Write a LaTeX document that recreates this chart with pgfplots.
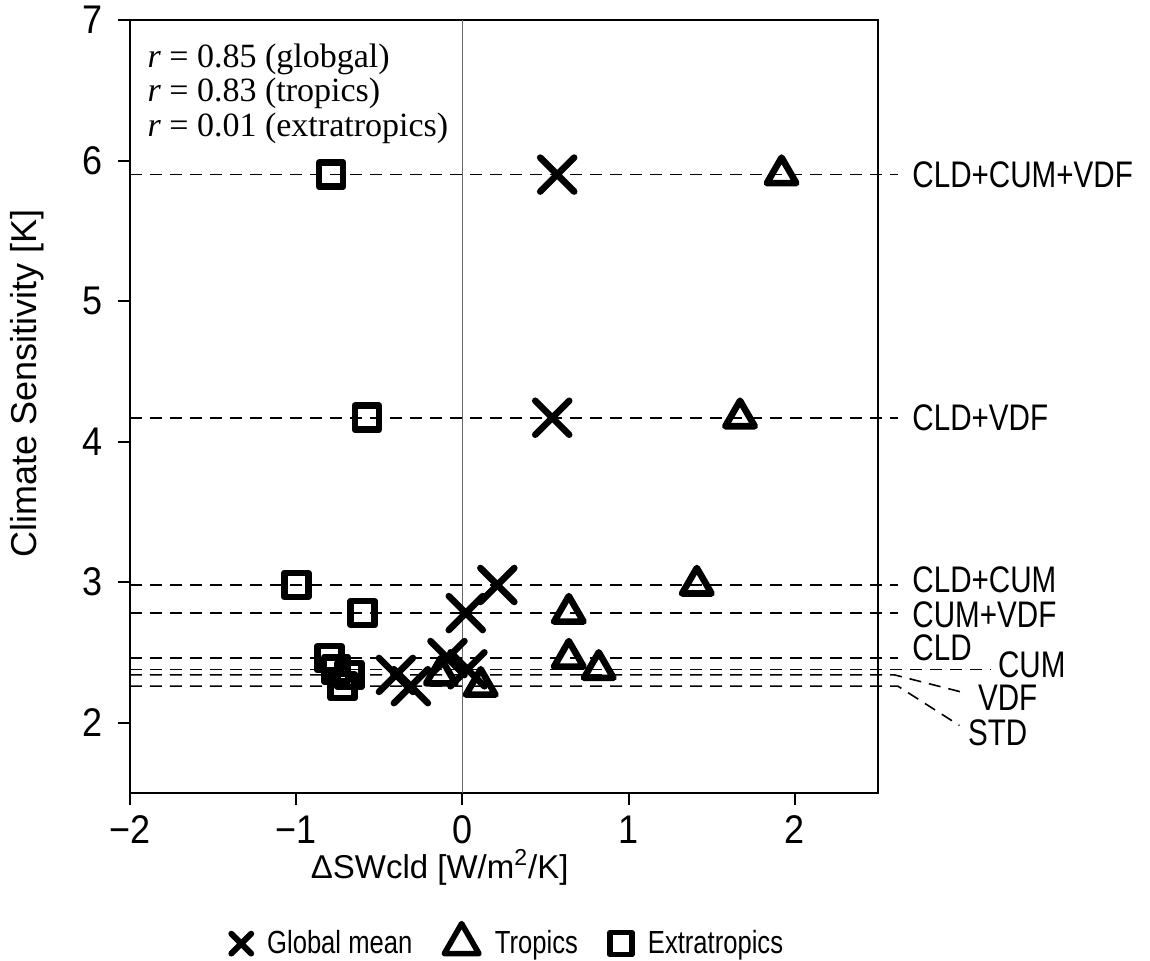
\documentclass[border=0pt]{standalone}
\usepackage{fontspec}
\setmainfont{Liberation Sans}
\newfontfamily\condfont[FakeStretch=0.8]{Liberation Sans}
\newfontfamily\tickfont[FakeStretch=0.9]{Liberation Sans}
\newfontfamily\seriffont{Liberation Serif}
\usepackage{pgfplots}
\pgfplotsset{compat=1.18}
\begin{document}
\begin{tikzpicture}
\useasboundingbox (-65pt,-84pt) rectangle (510pt,396.5pt);
\begin{axis}[
  at={(0,0)}, anchor=south west,
  scale only axis, width=374pt, height=386.5pt,
  xmin=-2, xmax=2.5, ymin=1.5, ymax=7,
  xtick={-2,-1,0,1,2}, xticklabels={−2,−1,0,1,2},
  ytick={2,3,4,5,6,7},
  tick align=outside, xtick pos=bottom, ytick pos=left,
  major tick length=6pt,
  axis line style={line width=1.2pt},
  every tick/.style={line width=1pt, black},
  tick label style={font=\tickfont\fontsize{20}{20}\selectfont},
  yticklabel style={xshift=-4pt},
  xticklabel style={yshift=-2pt},
  /pgf/number format/assume math mode=true,
  xlabel={ΔSWcld [W/m\textsuperscript{2}/K]},
  ylabel={Climate Sensitivity [K]},
  xlabel style={font=\fontsize{16.5}{18}\selectfont, at={(axis description cs:0.414,-0.11)}, anchor=base},
  ylabel style={font=\fontsize{18}{20}\selectfont, at={(axis description cs:-0.138,0.53)}, anchor=center},
  clip=false,
  legend style={at={(axis description cs:0.507,-0.193)}, anchor=center,
    draw=none, fill=none, legend columns=3,
    font=\condfont\fontsize{16}{16}\selectfont,
    /tikz/every odd column/.style={column sep=6pt},
    /tikz/every even column/.style={column sep=14pt}},
  dl/.style={black, line width=0.8pt, dash pattern=on 6pt off 4pt, forget plot},
  mk/.style={only marks, black, line width=3.3pt, line join=round, line cap=round, fill=none, forget plot},
]
% zero line
\addplot[gray!80!black, line width=0.6pt, forget plot] coordinates {(0,1.5) (0,7)};
% dashed experiment lines
\addplot[dl] coordinates {(-2,5.9) (2.62,5.9)};
\addplot[dl] coordinates {(-2,4.17) (2.62,4.17)};
\addplot[dl] coordinates {(-2,2.98) (2.62,2.98)};
\addplot[dl] coordinates {(-2,2.78) (2.62,2.78)};
\addplot[dl] coordinates {(-2,2.46) (2.62,2.46)};
\addplot[dl] coordinates {(-2,2.38) (3.18,2.38)};
\addplot[dl] coordinates {(-2,2.34) (2.6,2.34) (3.03,2.21)};
\addplot[dl] coordinates {(-2,2.26) (2.62,2.26) (2.99,1.98)};
% Global mean
\addplot[mk, mark=x, mark size=12pt] coordinates {
 (0.57,5.9) (0.54,4.17) (0.21,2.98) (0.02,2.78) (-0.09,2.46) (0.03,2.38) (-0.40,2.34) (-0.31,2.26)};
% Tropics
\addplot[mk, mark=triangle, mark size=8.5pt] coordinates {
 (1.92,5.9) (1.67,4.17) (1.41,2.98) (0.64,2.78) (0.64,2.46) (0.82,2.38) (-0.13,2.34) (0.11,2.26)};
% Extratropics
\addplot[mk, mark=square, mark size=6pt] coordinates {
 (-0.79,5.9) (-0.575,4.17) (-1.0,2.98) (-0.60,2.78) (-0.80,2.46) (-0.76,2.38) (-0.68,2.34) (-0.72,2.26)};
% legend entries
\addlegendimage{only marks, black, mark=x, mark size=7pt, line width=3pt, line cap=round}
\addlegendentry{Global mean}
\addlegendimage{only marks, black, mark=triangle, mark size=10pt, line width=2.8pt, line join=round}
\addlegendentry{Tropics}
\addlegendimage{only marks, black, mark=square, mark size=5.5pt, line width=2.8pt, line join=round}
\addlegendentry{Extratropics}
% labels
\begin{scope}[every node/.style={font=\condfont\fontsize{18.5}{18.5}\selectfont, anchor=west, inner sep=0pt}]
\node at (axis cs:2.705,5.9) {CLD+CUM+VDF};
\node at (axis cs:2.705,4.17) {CLD+VDF};
\node at (axis cs:2.705,3.02) {CLD+CUM};
\node at (axis cs:2.705,2.77) {CUM+VDF};
\node at (axis cs:2.705,2.53) {CLD};
\node at (axis cs:3.22,2.41) {CUM};
\node at (axis cs:3.10,2.18) {VDF};
\node at (axis cs:3.04,1.93) {STD};
\end{scope}
\node[anchor=north west, align=left, inner sep=0pt, font=\seriffont\fontsize{17}{17.3}\selectfont]
  at (rel axis cs:0.023,0.97) {\textit{r} = 0.85 (globgal)\\ \textit{r} = 0.83 (tropics)\\ \textit{r} = 0.01 (extratropics)};
\end{axis}
\end{tikzpicture}
\end{document}
